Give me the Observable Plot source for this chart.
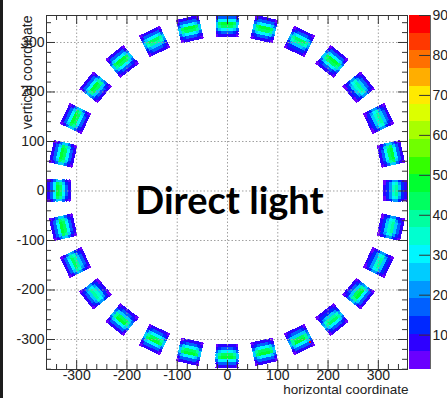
<!DOCTYPE html>
<html><head><meta charset="utf-8">
<script src="https://cdn.jsdelivr.net/npm/d3@7"></script>
<script src="https://cdn.jsdelivr.net/npm/@observablehq/plot@0.6"></script>
<style>
html,body{margin:0;padding:0;background:#fff;}
#wrap{position:relative;width:447px;height:398px;overflow:hidden;background:#fff;}
#wrap svg{position:absolute;left:0;top:0;}
#edge{position:absolute;left:0;top:0;width:3px;height:398px;background:#1c1c1c;z-index:5;}
</style></head><body>
<div id="wrap"><div id="edge"></div></div>
<script>
// ---- data ----
const moduleAngles = [0, 12.86, 25.71, 38.57, 51.43, 64.29, 77.14, 90, 102.86, 115.71, 128.57, 141.43, 154.29, 167.14,
  180, 192.86, 205.71, 218.57, 231.43, 244.29, 257.14, 270, 282.86, 295.71, 308.57, 321.43, 334.29, 347.14];
const modulePeaks = [38, 47, 40, 40, 47, 43, 48, 49, 48, 44, 47, 46, 48, 48,
  49, 48, 44, 40, 46, 47, 48, 49, 48, 46, 43, 46, 38, 40];
const radialProfile = [0.16, 0.34, 0.6, 0.92, 1.0, 0.66, 0.38, 0.2];      // inner -> outer
const tangentialProfile = [0.55, 0.88, 1.0, 1.0, 1.0, 1.0, 0.88, 0.55];
const hotBins = [{x: 164, y: -308, v: 88}];
const majorTicks = [-300, -200, -100, 0, 100, 200, 300];
const colorTicks = [10, 20, 30, 40, 50, 60, 70, 80, 90];
const paletteColors = ["#6a00ff", "#2e00ff", "#0028ff", "#0060ff", "#0098ff", "#00ccff", "#00f6ff", "#00ffd0",
  "#00ffa0", "#00ff60", "#00ff30", "#33ff00", "#70ff00", "#a8ff00", "#dcff00", "#ffea00", "#ffae00", "#ff7000",
  "#ff3800", "#ff0000"];
const zMin = 1.4, zMax = 90;

// ---- geometry of the detector ring (histogram binning) ----
const innerR = 310, outerR = 358, halfW = 23, binSize = 2;
const levels = d3.range(21).map(i => zMin + i * (zMax - zMin) / 20);
const cells = [];
for (let gx = -360; gx < 360; gx += binSize) {
  for (let gy = -362; gy < 360; gy += binSize) {
    const cx = gx + binSize / 2, cy = gy + binSize / 2;
    const r = Math.hypot(cx, cy);
    if (r < innerR - 10 || r > outerR + 40) continue;
    let th = Math.atan2(cy, cx) * 180 / Math.PI; if (th < 0) th += 360;
    let k = 0, best = 1e9;
    moduleAngles.forEach((a, i) => { let d = Math.abs(th - a); d = Math.min(d, 360 - d); if (d < best) { best = d; k = i; } });
    let d = (th - moduleAngles[k]); if (d > 180) d -= 360; if (d < -180) d += 360;
    const dr = d * Math.PI / 180;
    const u = r * Math.cos(dr), v = r * Math.sin(dr);
    if (u < innerR || u >= outerR || Math.abs(v) >= halfW) continue;
    const ri = Math.floor((u - innerR) / ((outerR - innerR) / radialProfile.length));
    const ti = Math.floor((v + halfW) / (2 * halfW / tangentialProfile.length));
    cells.push({x1: gx, x2: gx + binSize, y1: gy, y2: gy + binSize, v: modulePeaks[k] * radialProfile[ri] * tangentialProfile[ti]});
  }
}
for (const h of hotBins) cells.push({x1: h.x, x2: h.x + 4, y1: h.y, y2: h.y + 4, v: h.v});

const minorX = d3.range(-340, 360, 20).filter(d => d % 100 !== 0);
const minorY = d3.range(-360, 360, 20).filter(d => d % 100 !== 0 && d <= 340);
const W = 447, H = 398, mL = 46, mR = 40, mT = 15, mB = 29;
const fw = W - mL - mR, fh = H - mT - mB;
const font = "'Liberation Sans', Arial, Helvetica, sans-serif";
const ink = "#333";

const main = Plot.plot({
  width: W, height: H, marginLeft: mL, marginRight: mR, marginTop: mT, marginBottom: mB,
  x: {domain: [-360, 358], label: null},
  y: {domain: [-360.6, 354.5], label: null},
  color: {type: "threshold", domain: levels.slice(1, 20), range: paletteColors},
  style: {fontFamily: font, background: "transparent", color: "#222"},
  marks: [
    Plot.rect(cells, {x1: "x1", x2: "x2", y1: "y1", y2: "y2", fill: "v", clip: true, shapeRendering: "crispEdges"}),
    Plot.ruleX(majorTicks, {x: d => d, stroke: "#a0a0a0", strokeDasharray: "1.5,2"}),
    Plot.ruleY(majorTicks, {y: d => d, stroke: "#a0a0a0", strokeDasharray: "1.5,2"}),
    Plot.tickX(majorTicks, {x: d => d, insetTop: fh - 9, stroke: ink}),
    Plot.tickX(majorTicks, {x: d => d, insetBottom: fh - 9, stroke: ink}),
    Plot.tickX(minorX, {x: d => d, insetTop: fh - 5, stroke: ink}),
    Plot.tickX(minorX, {x: d => d, insetBottom: fh - 5, stroke: ink}),
    Plot.tickY(majorTicks, {y: d => d, insetRight: fw - 9, stroke: ink}),
    Plot.tickY(majorTicks, {y: d => d, insetLeft: fw - 9, stroke: ink}),
    Plot.tickY(minorY, {y: d => d, insetRight: fw - 5, stroke: ink}),
    Plot.tickY(minorY, {y: d => d, insetLeft: fw - 5, stroke: ink}),
    Plot.axisX(majorTicks, {tickSize: 0, tickPadding: 1, fontSize: 14, tickFormat: d => String(d), label: null}),
    Plot.axisY(majorTicks, {tickSize: 0, tickPadding: 2, fontSize: 14, tickFormat: d => String(d), label: null}),
    Plot.frame({stroke: ink}),
    Plot.text(["Direct light"], {text: d => d, frameAnchor: "middle", dx: 2.5, dy: 9, fontSize: 38, fontWeight: 700, fontFamily: "Lato", fill: "#000"}),
    Plot.text(["horizontal coordinate"], {text: d => d, frameAnchor: "bottom-right", textAnchor: "end", dx: 1, dy: 24.5, fontSize: 13.5}),
    Plot.text(["vertical coordinate"], {text: d => d, frameAnchor: "top-left", textAnchor: "end", rotate: -90, dx: -24.5, dy: 0, fontSize: 14})
  ]
});

const bands = paletteColors.map((c, i) => ({lo: levels[i], hi: levels[i + 1], color: c}));
const bar = Plot.plot({
  width: W, height: H, marginLeft: 409, marginRight: 17, marginTop: mT, marginBottom: mB,
  x: {domain: [0, 1], axis: null},
  y: {domain: [zMin, zMax], axis: null},
  color: {type: "identity"},
  style: {fontFamily: font, background: "transparent", color: "#222"},
  marks: [
    Plot.rect(bands, {x1: 0, x2: 1, y1: "lo", y2: "hi", fill: "color", shapeRendering: "crispEdges"}),
    Plot.ruleX([1], {stroke: "#666"}),
    Plot.ruleY(colorTicks, {y: d => d, x1: 0.48, x2: 1, stroke: ink}),
    Plot.text(colorTicks, {x: 1, y: d => d, text: d => String(d), textAnchor: "start", dx: 2, fontSize: 14})
  ]
});
const wrap = document.getElementById("wrap");
wrap.appendChild(main);
wrap.appendChild(bar);
</script>
</body></html>
